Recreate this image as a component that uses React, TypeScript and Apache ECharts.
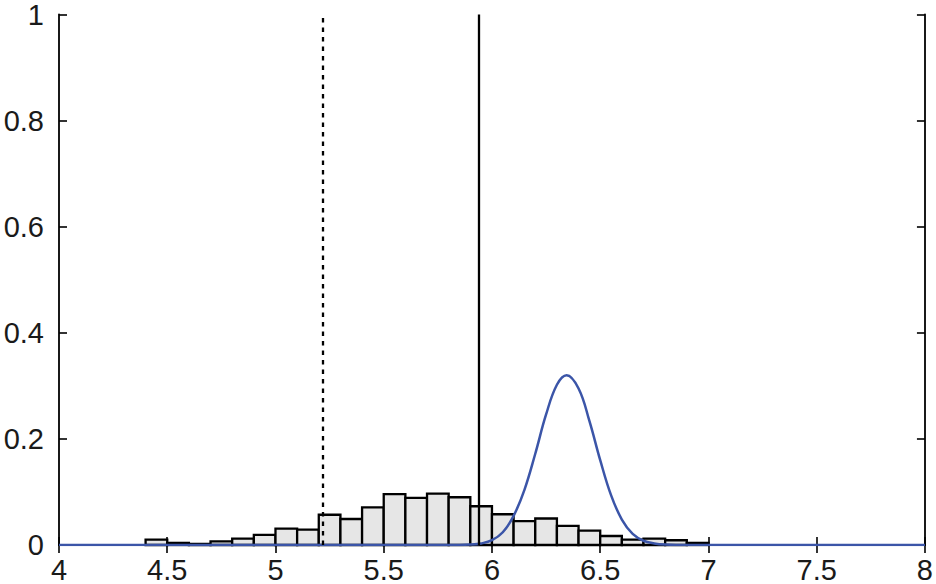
import React, { useEffect, useRef } from "react";
import * as echarts from "echarts";

// Histogram bins: left edges, right edges, heights
const binStarts = [4.4, 4.5, 4.6, 4.7, 4.8, 4.9, 5.0, 5.1, 5.2, 5.3, 5.4, 5.5, 5.6, 5.7, 5.8, 5.9, 6.0, 6.1, 6.2, 6.3, 6.4, 6.5, 6.6, 6.7, 6.8, 6.9];
const binWidth = 0.1;
const binHeights = [0.01, 0.004, 0.002, 0.007, 0.012, 0.019, 0.031, 0.029, 0.057, 0.049, 0.071, 0.096, 0.089, 0.097, 0.09, 0.073, 0.058, 0.045, 0.05, 0.036, 0.027, 0.017, 0.01, 0.012, 0.009, 0.004];

// Blue curve points
const curveX = [4.0, 5.8, 5.9, 5.95, 6.0, 6.05, 6.1, 6.15, 6.2, 6.25, 6.3, 6.345, 6.4, 6.45, 6.5, 6.55, 6.6, 6.65, 6.7, 6.75, 6.8, 6.9, 8.0];
const curveY = [0, 0, 0.001, 0.003, 0.009, 0.024, 0.055, 0.104, 0.172, 0.246, 0.302, 0.32, 0.295, 0.234, 0.16, 0.094, 0.048, 0.021, 0.008, 0.003, 0.001, 0, 0];

// Vertical reference lines
const dashedLineX = 5.22;
const solidLineX = 5.942;

// Axis ranges
const xMin = 4;
const xMax = 8;
const xStep = 0.5;
const yMin = 0;
const yMax = 1;
const yStep = 0.2;

export default function App() {
  const ref = useRef<HTMLDivElement>(null);

  useEffect(() => {
    if (!ref.current) return;
    const chart = echarts.init(ref.current, undefined, { renderer: "svg" });
    const font = "Liberation Sans, Arial, Helvetica, sans-serif";
    const axisCommon = {
      axisLine: { show: true, lineStyle: { color: "#000", width: 1.8 } },
      axisTick: { show: true, inside: true, length: 8, lineStyle: { color: "#000", width: 1.6 } },
      splitLine: { show: false },
    };
    const bins = binStarts.map((s, i) => [s, s + binWidth, binHeights[i]]);
    const curve = curveX.map((x, i) => [x, curveY[i]]);

    chart.setOption({
      animation: false,
      grid: { left: 59, right: 10, top: 12, bottom: 37, containLabel: false },
      xAxis: [
        {
          type: "value",
          min: xMin,
          max: xMax,
          interval: xStep,
          position: "bottom",
          ...axisCommon,
          axisLabel: {
            color: "#1a1a1a",
            fontSize: 29,
            fontFamily: font,
            margin: 10,
            formatter: (v: number) => String(v),
          },
        },
        {
          type: "value",
          min: xMin,
          max: xMax,
          interval: xStep,
          position: "top",
          ...axisCommon,
          axisLabel: { show: false },
        },
      ],
      yAxis: [
        {
          type: "value",
          min: yMin,
          max: yMax,
          interval: yStep,
          position: "left",
          ...axisCommon,
          axisLabel: {
            color: "#1a1a1a",
            fontSize: 29,
            fontFamily: font,
            margin: 15,
            formatter: (v: number) => String(Math.round(v * 10) / 10),
          },
        },
        {
          type: "value",
          min: yMin,
          max: yMax,
          interval: yStep,
          position: "right",
          ...axisCommon,
          axisLabel: { show: false },
        },
      ],
      series: [
        {
          type: "custom",
          xAxisIndex: 0,
          yAxisIndex: 0,
          z: 2,
          data: bins,
          renderItem: (params: any, api: any) => {
            const p0 = api.coord([api.value(0), 0]);
            const p1 = api.coord([api.value(1), api.value(2)]);
            return {
              type: "rect",
              shape: { x: p0[0], y: p1[1], width: p1[0] - p0[0], height: p0[1] - p1[1] },
              style: { fill: "#e6e6e6", stroke: "#000", lineWidth: 2.3 },
            };
          },
        },
        {
          type: "line",
          xAxisIndex: 0,
          yAxisIndex: 0,
          z: 3,
          data: [],
          markLine: {
            silent: true,
            symbol: "none",
            label: { show: false },
            data: [
              { xAxis: dashedLineX, lineStyle: { color: "#000", width: 2.3, type: [4.5, 5] } },
              { xAxis: solidLineX, lineStyle: { color: "#000", width: 2.3, type: "solid" } },
            ],
          },
        },
        {
          type: "line",
          xAxisIndex: 0,
          yAxisIndex: 0,
          z: 4,
          data: curve,
          smooth: 0.4,
          showSymbol: false,
          symbol: "none",
          lineStyle: { color: "#3b55a8", width: 2.5 },
        },
      ],
    });
    return () => chart.dispose();
  }, []);

  return (
    <div
      ref={ref}
      style={{ position: "fixed", left: 0, top: 0, width: 936, height: 584, background: "#fff" }}
    />
  );
}
